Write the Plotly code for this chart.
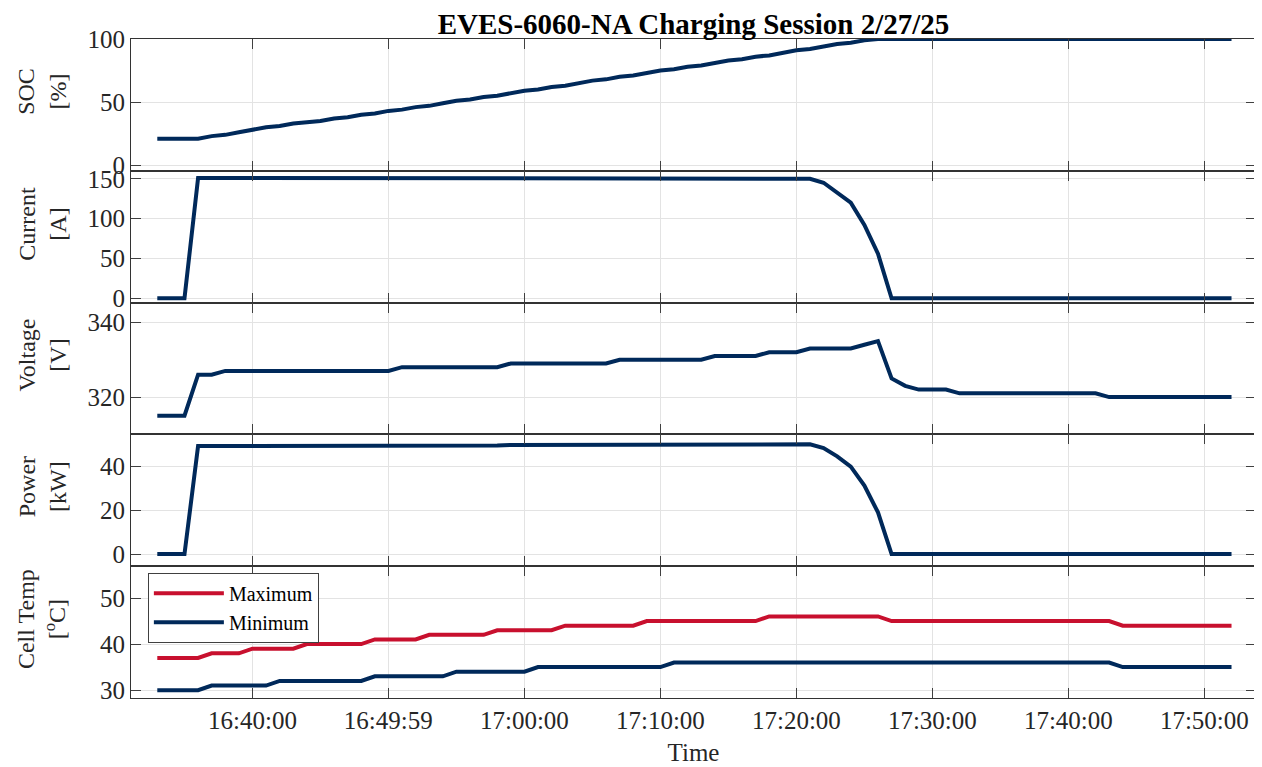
import pandas as pd
import plotly.graph_objects as go
from plotly.subplots import make_subplots

# 1 minute log samples, 16:33 .. 17:52
time = pd.date_range('2025-02-27 16:33:00', '2025-02-27 17:52:00', freq='1min')

soc = [21, 21, 21, 21, 23, 24, 26,
       28, 30, 31, 33, 34, 35, 37, 38, 40, 41,
       43, 44, 46, 47, 49, 51, 52, 54, 55, 57,
       59, 60, 62, 63, 65, 67, 68, 70, 71, 73,
       75, 76, 78, 79, 81, 83, 84, 86, 87, 89,
       91, 92, 94, 96, 97, 99, 100,
       100, 100, 100, 100, 100, 100, 100, 100, 100, 100,
       100, 100, 100, 100, 100, 100, 100, 100, 100, 100,
       100, 100, 100, 100, 100, 100]

current = [0, 0, 0,
           151, 151, 151, 151, 151, 151, 151, 151, 151, 151,
           151, 151, 151, 151, 151, 151, 151, 151, 151, 151,
           151, 151, 151, 151, 151, 151, 151, 151, 151, 151,
           151, 151, 151, 151, 151, 151, 151, 151, 151, 151,
           151, 151, 151, 151, 151,
           150, 145, 132, 120, 92, 56,
           0, 0, 0, 0, 0, 0, 0, 0, 0, 0, 0, 0, 0,
           0, 0, 0, 0, 0, 0, 0, 0, 0, 0, 0, 0, 0]

voltage = [315, 315, 315, 326, 326,
           327, 327, 327, 327, 327, 327, 327, 327, 327, 327, 327, 327, 327,
           328, 328, 328, 328, 328, 328, 328, 328,
           329, 329, 329, 329, 329, 329, 329, 329,
           330, 330, 330, 330, 330, 330, 330,
           331, 331, 331, 331,
           332, 332, 332,
           333, 333, 333, 333,
           334, 335, 325, 323, 322, 322, 322,
           321, 321, 321, 321, 321, 321, 321, 321, 321, 321, 321,
           320, 320, 320, 320, 320, 320, 320, 320, 320, 320]

power = [0, 0, 0, 49.2, 49.2,
         49.4, 49.4, 49.4, 49.4, 49.4, 49.4, 49.4, 49.4, 49.4, 49.4, 49.4, 49.4, 49.4,
         49.5, 49.5, 49.5, 49.5, 49.5, 49.5, 49.5, 49.5,
         49.7, 49.7, 49.7, 49.7, 49.7, 49.7, 49.7, 49.7,
         49.8, 49.8, 49.8, 49.8, 49.8, 49.8, 49.8,
         50.0, 50.0, 50.0, 50.0,
         50.1, 50.1, 50.1,
         50.0, 48.3, 44.5, 39.8, 31.2, 19.0,
         0, 0, 0, 0, 0, 0, 0, 0, 0, 0, 0, 0, 0,
         0, 0, 0, 0, 0, 0, 0, 0, 0, 0, 0, 0, 0]

temp_max = [37, 37, 37, 37, 38, 38, 38,
            39, 39, 39, 39,
            40, 40, 40, 40, 40,
            41, 41, 41, 41,
            42, 42, 42, 42, 42,
            43, 43, 43, 43, 43,
            44, 44, 44, 44, 44, 44,
            45, 45, 45, 45, 45, 45, 45, 45, 45,
            46, 46, 46, 46, 46, 46, 46, 46, 46,
            45, 45, 45, 45, 45, 45, 45, 45, 45, 45, 45, 45, 45, 45, 45, 45, 45,
            44, 44, 44, 44, 44, 44, 44, 44, 44]

temp_min = [30, 30, 30, 30,
            31, 31, 31, 31, 31,
            32, 32, 32, 32, 32, 32, 32,
            33, 33, 33, 33, 33, 33,
            34, 34, 34, 34, 34, 34,
            35, 35, 35, 35, 35, 35, 35, 35, 35, 35,
            36, 36, 36, 36, 36, 36, 36, 36, 36, 36, 36,
            36, 36, 36, 36, 36, 36, 36, 36, 36, 36, 36,
            36, 36, 36, 36, 36, 36, 36, 36, 36, 36, 36,
            35, 35, 35, 35, 35, 35, 35, 35, 35]

time_ticks = ['2025-02-27 16:40:00', '2025-02-27 16:49:59', '2025-02-27 17:00:00',
              '2025-02-27 17:10:00', '2025-02-27 17:20:00', '2025-02-27 17:30:00',
              '2025-02-27 17:40:00', '2025-02-27 17:50:00']

ylabels = ['SOC<br>[%]', 'Current<br>[A]', 'Voltage<br>[V]', 'Power<br>[kW]',
           'Cell Temp<br>[<sup>o</sup>C]']
yranges = [[-4.5, 100], [-5.5, 160], [310, 345.3], [-5.5, 54.5], [28.3, 56.9]]
yticks = [[0, 50, 100], [0, 50, 100, 150], [320, 340], [0, 20, 40], [30, 40, 50]]

NAVY = '#00295A'
RED = '#C8102E'
FONT = 'Liberation Serif, Times New Roman, serif'
TXT = '#262626'

fig = make_subplots(rows=5, cols=1, shared_xaxes=True, vertical_spacing=0)

line = dict(color=NAVY, width=4)
fig.add_trace(go.Scatter(x=time, y=soc, mode='lines', line=line, showlegend=False), row=1, col=1)
fig.add_trace(go.Scatter(x=time, y=current, mode='lines', line=line, showlegend=False), row=2, col=1)
fig.add_trace(go.Scatter(x=time, y=voltage, mode='lines', line=line, showlegend=False), row=3, col=1)
fig.add_trace(go.Scatter(x=time, y=power, mode='lines', line=line, showlegend=False), row=4, col=1)
fig.add_trace(go.Scatter(x=time, y=temp_max, mode='lines', name='Maximum',
                         line=dict(color=RED, width=4)), row=5, col=1)
fig.add_trace(go.Scatter(x=time, y=temp_min, mode='lines', name='Minimum',
                         line=dict(color=NAVY, width=4)), row=5, col=1)

for i in range(5):
    fig.update_yaxes(range=yranges[i], tickvals=yticks[i], row=i+1, col=1)
    yref = 'y domain' if i == 0 else f'y{i+1} domain'
    # labels sit a bit above the middle of each panel, like the matlab original
    fig.add_annotation(text=ylabels[i], textangle=-90, xref='paper', yref=yref,
                       x=-0.079, y=0.6, xanchor='center', yanchor='middle',
                       showarrow=False, font=dict(family=FONT, size=24, color=TXT))

fig.update_xaxes(range=['2025-02-27 16:31:04', '2025-02-27 17:53:48'],
                 tickvals=time_ticks, tickformat='%H:%M:%S', automargin=False,
                 showline=True, linecolor='#333333', linewidth=1, mirror='ticks',
                 ticks='inside', ticklen=10, tickcolor='#404040',
                 showgrid=True, gridcolor='#E3E3E3', gridwidth=1, zeroline=False,
                 tickfont=dict(family=FONT, size=25, color=TXT))
fig.update_xaxes(title=dict(text='Time', font=dict(family=FONT, size=25, color=TXT),
                            standoff=10), row=5, col=1)
fig.update_yaxes(showline=True, linecolor='#333333', linewidth=1, mirror='ticks',
                 ticks='inside', ticklen=10, tickcolor='#404040', automargin=False,
                 showgrid=True, gridcolor='#E3E3E3', gridwidth=1, zeroline=False,
                 tickfont=dict(family=FONT, size=25, color=TXT))

# page body has an 8px margin, so the figure is sized 8px smaller each way
fig.update_layout(
    width=1254, height=759,
    margin=dict(l=123, r=6, t=31, b=69),
    paper_bgcolor='white', plot_bgcolor='white',
    title=dict(text='<b>EVES-6060-NA Charging Session 2/27/25</b>',
               x=0.5, xref='paper', xanchor='center',
               y=0.979, yref='container', yanchor='middle',
               font=dict(family=FONT, size=29, color='black')),
    legend=dict(x=0.015, y=0.19, xanchor='left', yanchor='top',
                bgcolor='white', bordercolor='#404040', borderwidth=1,
                itemwidth=70, font=dict(family=FONT, size=20, color='black')),
    font=dict(family=FONT),
)

fig.write_html('out.html')
